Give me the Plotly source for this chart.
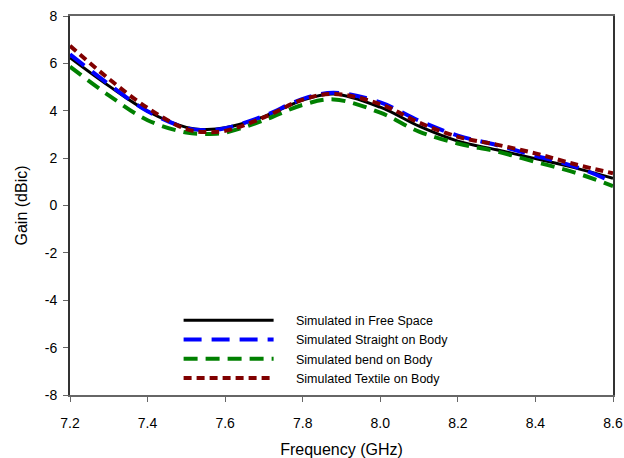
import plotly.graph_objects as go

freq = [7.2, 7.3, 7.4, 7.5, 7.55, 7.6, 7.7, 7.8, 7.88, 8.0, 8.1, 8.2, 8.3, 8.4, 8.5, 8.6]
free_space = [6.24, 5.05, 3.98, 3.30, 3.21, 3.28, 3.75, 4.45, 4.71, 4.15, 3.35, 2.72, 2.35, 1.98, 1.60, 1.15]
straight_body = [6.38, 5.12, 3.98, 3.27, 3.18, 3.26, 3.78, 4.50, 4.76, 4.35, 3.58, 2.95, 2.55, 2.10, 1.65, 1.00]
bend_body = [5.86, 4.65, 3.60, 3.08, 3.02, 3.08, 3.60, 4.25, 4.48, 3.92, 3.12, 2.62, 2.28, 1.84, 1.40, 0.82]
textile_body = [6.74, 5.35, 4.12, 3.22, 3.10, 3.15, 3.72, 4.47, 4.71, 4.28, 3.50, 2.90, 2.57, 2.20, 1.75, 1.36]

series_names = ["Simulated in Free Space", "Simulated Straight on Body",
                "Simulated bend on Body", "Simulated Textile on Body"]

x_ticks = [7.2, 7.4, 7.6, 7.8, 8.0, 8.2, 8.4, 8.6]
x_ticktext = ["7.2", "7.4", "7.6", "7.8", "8.0", "8.2", "8.4", "8.6"]
y_ticks = [-8, -6, -4, -2, 0, 2, 4, 6, 8]
y_ticktext = ["-8", "-6", "-4", "-2", "0", "2", "4", "6", "8"]

styles = [
    dict(color="#000000", width=3, dash="solid"),
    dict(color="#0000ff", width=4, dash="18px,10px"),
    dict(color="#008000", width=4, dash="14px,8px"),
    dict(color="#800000", width=4, dash="8px,5px"),
]

pad = "\u00a0" * 5
fig = go.Figure()
for name, ys, st in zip(series_names, [free_space, straight_body, bend_body, textile_body], styles):
    fig.add_trace(go.Scatter(x=freq, y=ys, mode="lines", name=pad + name,
                             line=dict(shape="spline", smoothing=1.0, **st)))

font = "Liberation Sans, Arial, sans-serif"
fig.update_layout(
    width=624, height=458,
    margin=dict(l=70, r=11, t=16, b=63),
    paper_bgcolor="white", plot_bgcolor="white",
    font=dict(family=font, size=14, color="black"),
    showlegend=True,
    legend=dict(x=0.2, y=0.236, xanchor="left", yanchor="top",
                bgcolor="rgba(0,0,0,0)", font=dict(size=12.5, family=font),
                itemwidth=90, tracegroupgap=0),
    xaxis=dict(range=[7.2, 8.6], tickvals=x_ticks, ticktext=x_ticktext,
               ticks="outside", ticklen=5, tickcolor="#666666",
               ticklabelstandoff=9, automargin=False,
               showline=True, linecolor="#666666", linewidth=2, mirror=True,
               showgrid=False, zeroline=False,
               title=dict(text="Frequency (GHz)", font=dict(size=16, family=font), standoff=17)),
    yaxis=dict(range=[-8, 8], tickvals=y_ticks, ticktext=y_ticktext,
               ticks="outside", ticklen=5, tickcolor="#666666",
               ticklabelstandoff=3, automargin=False,
               showline=True, linecolor="#333333", linewidth=2, mirror=True,
               showgrid=False, zeroline=False,
               title=dict(text="Gain (dBic)", font=dict(size=16, family=font), standoff=13)),
)

fig.write_html("out.html")
